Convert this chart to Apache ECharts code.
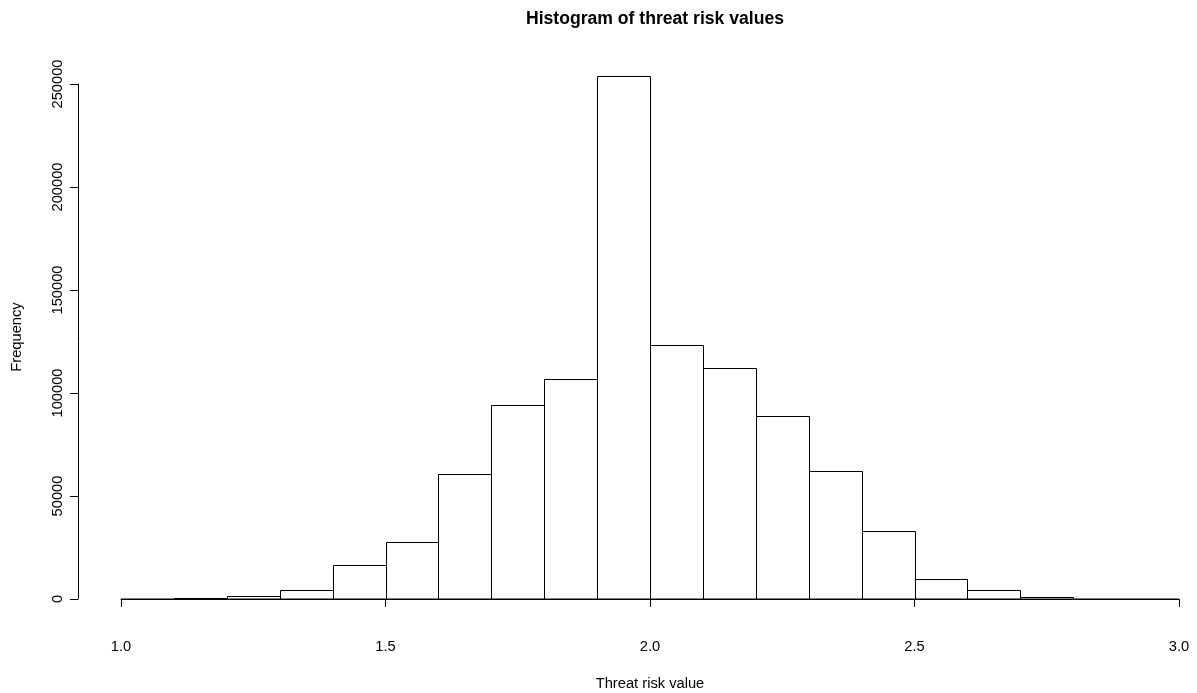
<!DOCTYPE html>
<html>
<head>
<meta charset="utf-8">
<script src="https://cdn.jsdelivr.net/npm/echarts@6/dist/echarts.min.js"></script>
<style>
html,body{margin:0;padding:0;background:#fff;}
#chart{width:1197px;height:693px;}
</style>
</head>
<body>
<div id="chart"></div>
<script>
// Histogram bins (lower and upper edges) and frequencies
var binStart = [1.1, 1.2, 1.3, 1.4, 1.5, 1.6, 1.7, 1.8, 1.9, 2.0, 2.1, 2.2, 2.3, 2.4, 2.5, 2.6, 2.7, 2.8];
var binEnd   = [1.2, 1.3, 1.4, 1.5, 1.6, 1.7, 1.8, 1.9, 2.0, 2.1, 2.2, 2.3, 2.4, 2.5, 2.6, 2.7, 2.8, 2.9];
var counts   = [300, 1400, 4300, 16400, 27500, 60800, 94200, 106600, 253900, 123400, 112000, 88800, 62100, 32900, 9600, 4200, 1100, 200];
// baseline drawn along zero
var baselineX = [1.0, 3.0];
var baselineY = [0, 0];

var titleText = 'Histogram of threat risk values';
var xName = 'Threat risk value';
var yName = 'Frequency';

var FONT = '"Liberation Sans", Arial, sans-serif';
var FS = 14.7;

var histData = binStart.map(function (s, i) { return [s, binEnd[i], counts[i]]; });
var baseData = baselineX.map(function (x, i) { return [x, baselineY[i]]; });

var chart = echarts.init(document.getElementById('chart'), null, {renderer: 'canvas'});
chart.setOption({
  backgroundColor: '#ffffff',
  animation: false,
  title: {
    text: titleText,
    left: 650,
    textAlign: 'center',
    top: 5,
    textStyle: {fontFamily: FONT, fontWeight: 'bold', fontSize: 17.6, color: '#000'}
  },
  grid: {left: 121, right: 18, top: 84, bottom: 94, containLabel: false, outerBoundsMode: 'none'},
  graphic: [{
    type: 'text',
    x: 17, y: 337,
    rotation: Math.PI / 2,
    style: {
      text: yName, fontFamily: FONT, fontSize: FS, fill: '#000',
      textAlign: 'center', textVerticalAlign: 'middle'
    }
  }],
  xAxis: {
    type: 'value',
    min: 1.0, max: 3.0, interval: 0.5,
    offset: 21,
    name: xName,
    nameLocation: 'middle',
    nameGap: 56,
    nameTextStyle: {fontFamily: FONT, fontSize: FS, color: '#000'},
    axisLine: {show: true, lineStyle: {color: '#000', width: 1}},
    axisTick: {show: true, length: 8, lineStyle: {color: '#000', width: 1}},
    axisLabel: {
      fontFamily: FONT, fontSize: FS, color: '#000', margin: 19,
      formatter: function (v) { return v.toFixed(1); }
    },
    splitLine: {show: false}
  },
  yAxis: {
    type: 'value',
    min: 0, max: 250000, interval: 50000,
    offset: 43,
    axisLine: {show: true, lineStyle: {color: '#000', width: 1}},
    axisTick: {show: true, length: 8, lineStyle: {color: '#000', width: 1}},
    axisLabel: {
      fontFamily: FONT, fontSize: FS, color: '#000', margin: 13, rotate: 90,
      formatter: function (v) { return String(v); }
    },
    splitLine: {show: false}
  },
  series: [
    {
      type: 'custom',
      clip: false,
      data: histData,
      encode: {x: [0, 1], y: 2},
      renderItem: function (params, api) {
        var p0 = api.coord([api.value(0), api.value(2)]);
        var p1 = api.coord([api.value(1), 0]);
        var x0 = Math.round(p0[0]) + 0.5, x1 = Math.round(p1[0]) + 0.5;
        var y0 = Math.round(p0[1]) + 0.5, y1 = Math.round(p1[1]) + 0.5;
        return {
          type: 'rect',
          shape: {x: x0, y: y0, width: x1 - x0, height: y1 - y0},
          style: {fill: '#fff', stroke: '#000', lineWidth: 1}
        };
      }
    },
    {
      type: 'line',
      data: baseData,
      showSymbol: false,
      symbol: 'none',
      clip: false,
      lineStyle: {color: '#000', width: 1},
      z: 3
    }
  ]
});
</script>
</body>
</html>
